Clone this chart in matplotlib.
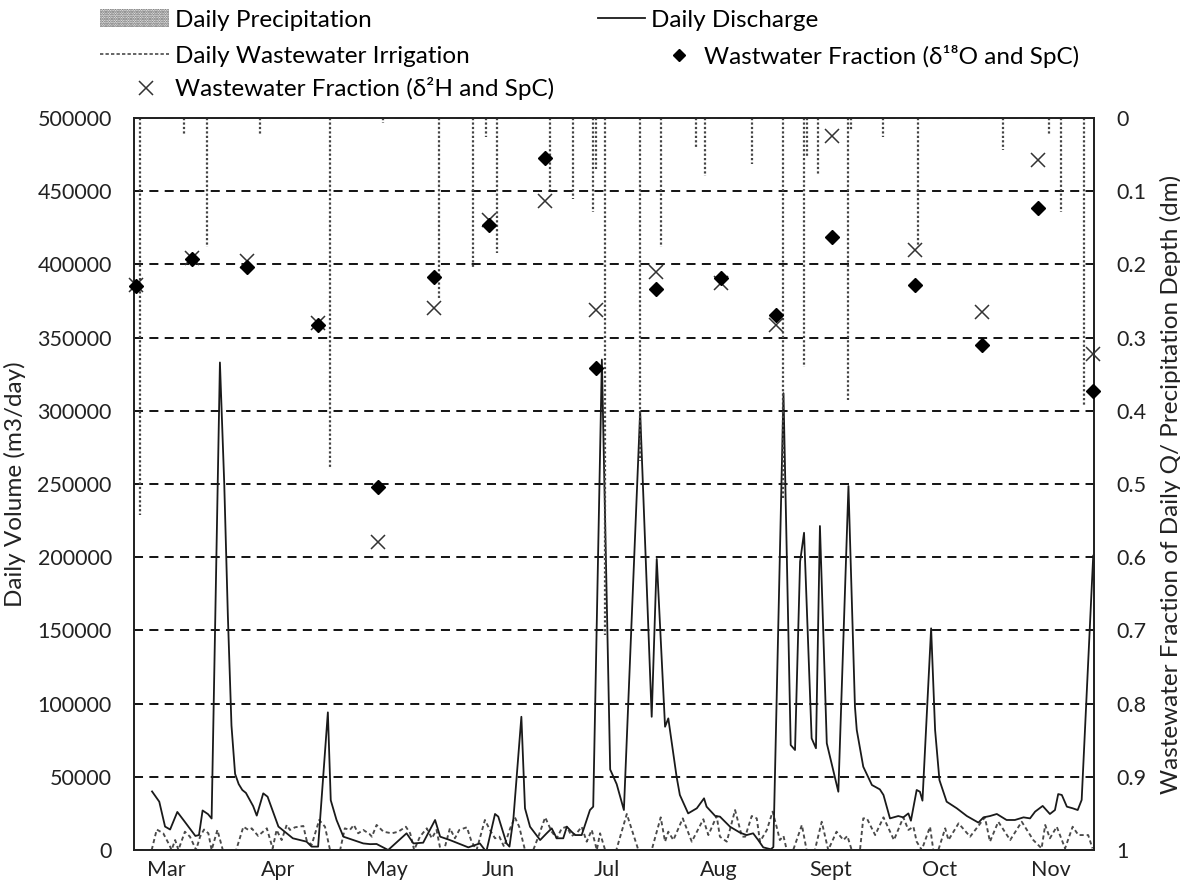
import pandas as pd
import matplotlib
matplotlib.use("Agg")
import matplotlib.pyplot as plt
from matplotlib.patches import Patch
from matplotlib.lines import Line2D

plt.rcParams['font.family'] = ['Lato', 'DejaVu Sans']
plt.rcParams['hatch.linewidth'] = 1.2

# record runs from 20 Feb; all days below are counted from that date
start = pd.Timestamp('2015-02-20')
end = pd.Timestamp('2015-11-12 22:00')

# daily discharge (m3/day)
q_day = [5, 7, 8.6, 10, 12, 14, 17, 18, 19, 20.5, 21.5, 23.8, 25, 26, 27, 28, 29, 30,
         31, 33, 34, 35.8, 37, 40, 44, 47.8, 49.2, 51, 53.7, 54.5, 56.1, 58, 63.5, 65.4,
         67.2, 70.4, 75.5, 77.4, 80.1, 83.4, 84.8, 87.5, 92.6, 95.8, 97.2, 97.7, 100, 100.9,
         103.2, 104, 105.1, 107.3, 108.3, 109.7, 112.5, 114.3, 115.7, 117.1, 118.9, 119.9,
         121.2, 122.2, 124, 126.3, 127.2, 129.6, 131.9, 133.7, 135.7, 140.2, 143.4, 144.8,
         147.1, 148, 150.3, 151.2, 153.5, 155.9, 157.9, 158.6, 161, 162.3, 165.1, 167.9,
         169.7, 171.5, 172.9, 174.3, 176.4, 177.1, 179.9, 181.9, 183.1, 184.5, 185.6, 187.7,
         188.9, 190, 191.9, 195.1, 197.9, 199.7, 200.2, 202, 204.4, 206.6, 207.6, 209.4,
         211.7, 213.1, 214.5, 215.2, 216.8, 217.7, 218.4, 220.8, 221.9, 223.1, 225.1, 227.9,
         230.7, 233.9, 235.3, 237.1, 239, 241.7, 244, 246.4, 248.2, 249.6, 251.7, 253.7,
         255.1, 256, 257, 258.4, 260, 261.4, 262.5, 265.7]
q_vol = [40000, 33000, 16000, 14000, 26000, 19500, 9600, 10200, 27000, 24500, 21500, 333000,
         250000, 160000, 85000, 52000, 45000, 41000, 39000, 30000, 23500, 38700, 36400, 16000,
         8000, 5700, 2300, 2300, 94000, 34000, 20500, 9100, 4500, 4000, 4100, 0, 11400, 4500,
         5000, 20500, 9100, 6800, 1800, 4500, 0, 0, 24600, 22800, 4500, 2300, 21600, 91000,
         28500, 15900, 6800, 11400, 14800, 8000, 8000, 15900, 12500, 10200, 10200, 27300,
         29600, 335000, 55000, 45000, 27300, 299400, 91000, 198800, 84200, 89900, 50000, 37600,
         25000, 28500, 35300, 29600, 23200, 22800, 15900, 11800, 10200, 11400, 6800, 1800, 500,
         2000, 312000, 71700, 68300, 196900, 216700, 76300, 69500, 221300, 72900, 39800, 248600,
         97900, 82000, 56900, 44400, 41400, 37600, 21600, 23200, 22300, 25000, 20000, 41000,
         39800, 33700, 151400, 82000, 47800, 33000, 28500, 23200, 18700, 22300, 23200, 24600,
         20500, 20500, 22300, 21600, 26200, 30100, 24600, 27300, 38200, 37600, 29600, 28500,
         27300, 34200, 201000]

# daily wastewater irrigation (m3/day)
irr_day = [4.9, 6.3, 8.1, 9.8, 10.4, 11.4, 12.3, 14.1, 15.5, 17.2, 18.3, 19.4, 20.6, 21.5,
           23.1, 24.6, 28.3, 30.3, 31.7, 32.6, 34.4, 36.8, 38.4, 39.5, 40.9, 42.3, 43.2, 44.6,
           46.9, 47.8, 49.2, 51.3, 52.9, 54.3, 57.1, 58.4, 59.8, 60.9, 62.1, 63.5, 65.2, 65.9,
           67.2, 69.1, 71.4, 73.2, 75.3, 76.5, 77.6, 79.2, 81.1, 82.5, 83.8, 84.9, 85.9, 87.5,
           88.9, 90.1, 92.2, 93.5, 94.9, 97.2, 98.6, 100, 101.2, 102.5, 104.2, 105.5, 106.7,
           108.3, 110.6, 112, 113.9, 115.7, 117.1, 118.5, 119.9, 121.2, 122.6, 124, 125.4,
           126.8, 128.2, 129.1, 130.5, 131.9, 133.6, 136.5, 139.7, 143.4, 145.9, 147.1, 148,
           149.4, 152, 154.5, 157.7, 159.1, 161.4, 162.3, 164.2, 166.5, 168.4, 169.3, 171.1,
           172.5, 173.4, 175.3, 176.9, 178, 178.9, 179.9, 180.8, 182.6, 185, 186.3, 188.6,
           190.5, 192.3, 194.6, 196.5, 197.6, 198.8, 201.1, 202, 203, 205.3, 207.6, 210.5,
           213.1, 214.5, 215.9, 216.8, 218.2, 220.5, 221.4, 222.8, 224.7, 225.6, 228.4, 231.6,
           235.7, 237.1, 239.4, 242.7, 245.9, 249.1, 251.4, 252.4, 253.7, 255.6, 257.9, 260,
           261.6, 264.3, 265.5]
irr_vol = [0, 14000, 11400, 3400, 0, 6800, 0, 12500, 9100, 0, 9100, 14000, 11400, 0,
           13700, 0, 0, 15900, 13700, 14800, 9600, 14800, 1100, 13700, 6800, 17100, 13700, 15500,
           16400, 6800, 3400, 20500, 15900, 0, 0, 14800, 13700, 17100, 11400, 13700, 11000, 9100,
           17100, 12500, 11400, 12500, 15900, 11400, 0, 9100, 14800, 8000, 13700, 0, 0, 14800,
           8000, 13700, 15500, 5700, 0, 20500, 13700, 8000, 9100, 2300, 14800, 22300, 15900,
           0, 0, 9100, 22300, 12500, 8000, 14800, 15900, 9600, 11400, 15900, 5700,
           13700, 0, 11400, 0, 0, 0, 24600, 0, 0, 22300, 5700, 12500,
           6800, 21600, 5700, 21000, 10200, 23200, 9100, 5700, 27300, 9100, 9100, 23200,
           21600, 5700, 13700, 26200, 15900, 6800, 9600, 0, 0, 17100, 0, 0,
           19300, 0, 12500, 6800, 9600, 0, 0, 21600, 21600, 10200, 22300, 6800,
           22300, 13700, 15900, 5700, 0, 15900, 0, 0, 14800, 6800, 18200, 9100,
           22300, 5700, 19300, 6800, 19300, 6800, 1100, 17100, 8000, 15900, 1100, 15900,
           10200, 10200, 1100]

# daily precipitation depth (dm)
rain_day = [1.7, 13.9, 20.3, 34.9, 54.3, 68.9, 84.5, 94, 97.4, 100.5, 115.2, 121.7, 127.2,
            128, 130.5, 140.2, 145.9, 155.7, 158.2, 171.1, 179.9, 185.6, 186.3, 189.6, 197.7,
            198.5, 207.4, 217.3, 240.6, 253.5, 256.8, 263.2]
rain_dm = [0.542, 0.023, 0.176, 0.023, 0.479, 0.007, 0.246, 0.205, 0.026, 0.185, 0.098, 0.11,
           0.128, 0.07, 0.706, 0.469, 0.176, 0.041, 0.079, 0.063, 0.52, 0.34, 0.053, 0.078,
           0.385, 0.016, 0.026, 0.176, 0.044, 0.023, 0.128, 0.392]

# wastewater fraction of daily Q at the sampling days
sample_day = [0.5, 16, 31.2, 51, 67.7, 83.2, 98.4, 113.9, 128, 144.7, 162.5, 177.9, 193.3,
              216.3, 234.8, 250.3, 265.7]
frac_o18 = [0.230, 0.193, 0.203, 0.283, 0.504, 0.217, 0.146, 0.055, 0.342, 0.234, 0.218,
            0.269, 0.162, 0.228, 0.310, 0.123, 0.373]
frac_h2 = [0.228, 0.191, 0.196, 0.280, 0.579, 0.259, 0.140, 0.114, 0.262, 0.210, 0.225,
           0.283, 0.025, 0.180, 0.265, 0.057, 0.322]

month_names = ['Mar', 'Apr', 'May', 'Jun', 'Jul', 'Aug', 'Sept', 'Oct', 'Nov']
left_ticks = list(range(0, 500001, 50000))
right_ticks = [0, 0.1, 0.2, 0.3, 0.4, 0.5, 0.6, 0.7, 0.8, 0.9, 1]

fs = 15.5
lfs = 17.5
ink = '#1a1a1a'
txt = '#222222'
irr_color = '#4a4a4a'

fig = plt.figure(figsize=(11.8, 8.8), dpi=100)
ax = fig.add_axes([134 / 1180, 1 - 850 / 880, 960 / 1180, 732 / 880])
ax2 = ax.twinx()

ax.plot(q_day, q_vol, color=ink, lw=1.3, zorder=3)
ax.plot(irr_day, irr_vol, color=irr_color, lw=1.35, ls=(0, (2.2, 1.6)), zorder=2)

ax2.vlines(rain_day, 0, rain_dm, colors='#444444', linestyles=(0, (1, 1)), lw=1.6)
ax2.plot(sample_day, frac_h2, ls='none', marker='x', ms=9.5, mew=1.1, color='#333333',
         clip_on=False, zorder=4)
ax2.plot(sample_day, frac_o18, ls='none', marker='D', ms=7.5, color='black',
         clip_on=False, zorder=5)

span = (end - start) / pd.Timedelta(days=1)
ax.set_xlim(0, span)
month_starts = pd.date_range('2015-03-01', periods=len(month_names), freq='MS')
ax.set_xticks([(m - start).days for m in month_starts])
ax.set_xticklabels(month_names)

ax.set_ylim(0, 500000)
ax.set_yticks(left_ticks)
ax.set_yticklabels([str(v) for v in left_ticks])
ax2.set_ylim(1, 0)
ax2.set_yticks(right_ticks)
ax2.set_yticklabels(['{:g}'.format(v) for v in right_ticks])

ax.yaxis.grid(True, color='black', lw=1.3, ls=(0, (5, 3.5)))
ax.set_axisbelow(True)
for a in (ax, ax2):
    a.tick_params(length=0, labelsize=fs, colors=txt)
    for s in a.spines.values():
        s.set_linewidth(1.3)
        s.set_color(txt)
ax.tick_params(axis='y', pad=16)
ax.tick_params(axis='x', pad=7)
ax2.tick_params(axis='y', pad=16)

ax.set_ylabel('Daily Volume (m3/day)', fontsize=lfs, color=txt, labelpad=8)
ax2.set_ylabel('Wastewater Fraction of Daily Q/ Precipitation Depth (dm)', fontsize=lfs,
               color=txt, labelpad=10)

# legend entries laid out one by one (x of key's left edge, y of row centre, key length)
h_rain = Patch(facecolor='white', edgecolor='#555555', hatch='.......', lw=0)
h_irr = Line2D([], [], color=irr_color, lw=1.2, ls=(0, (2, 1.3)))
h_h2 = Line2D([], [], ls='none', marker='x', ms=9.5, mew=1.1, color='#333333')
h_q = Line2D([], [], color=ink, lw=1.3)
h_o18 = Line2D([], [], ls='none', marker='D', ms=6.5, color='black')

entries = [
    (h_rain, 'Daily Precipitation', 100, 20, 2.85),
    (h_irr, 'Daily Wastewater Irrigation', 100, 56, 2.85),
    (h_h2, 'Wastewater Fraction (δ²H and SpC)', 122, 89, 1.95),
    (h_q, 'Daily Discharge', 598, 20, 1.95),
    (h_o18, 'Wastwater Fraction (δ¹⁸O and SpC)', 660, 56, 1.6),
]
for handle, label, x0, y0, hl in entries:
    fig.legend([handle], [label], loc='center left', bbox_to_anchor=(x0 / 1180, 1 - y0 / 880),
               frameon=False, fontsize=lfs, handlelength=hl, handletextpad=0.22,
               borderpad=0, borderaxespad=0)

fig.savefig('out.png', dpi=100)
